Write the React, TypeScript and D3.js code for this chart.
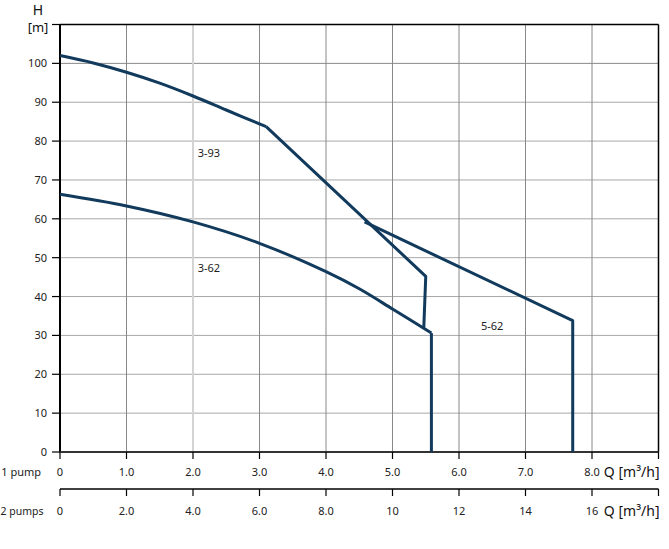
import * as d3 from 'd3';

// Q [m3/h] for 1 pump, H [m]
const curve393: [number, number][] = [
  [0, 102], [0.5, 100.1], [1.0, 97.7], [1.5, 94.9], [2.0, 91.6], [2.5, 88.0], [3.1, 83.7],
];
const line393: [number, number][] = [[3.1, 83.7], [5.5, 45.2], [5.47, 31.8]];

const curve362: [number, number][] = [
  [0, 66.3], [1.0, 63.3], [2.0, 59.2], [3.0, 53.7], [4.0, 46.4], [4.5, 42.0], [5.0, 36.8], [5.585, 30.6],
];
const line362: [number, number][] = [[5.585, 30.6], [5.585, 0]];

const line562: [number, number][] = [[4.58, 59.2], [7.71, 33.8], [7.71, 0]];

const curveLabels = [
  { text: '3-93', q: 2.07, h: 76 },
  { text: '3-62', q: 2.07, h: 46.3 },
  { text: '5-62', q: 6.33, h: 31.4 },
];

const hTicks = [0, 10, 20, 30, 40, 50, 60, 70, 80, 90, 100];
const q1Ticks = [0, 1, 2, 3, 4, 5, 6, 7, 8, 9];
const q1Labels = ['0', '1.0', '2.0', '3.0', '4.0', '5.0', '6.0', '7.0', '8.0'];
const q2Ticks = [0, 2, 4, 6, 8, 10, 12, 14, 16, 18];
const q2Labels = ['0', '2.0', '4.0', '6.0', '8.0', '10', '12', '14', '16'];

const W = 669;
const H = 549;
const LEFT = 60;
const RIGHT = 658.5;
const TOP = 24.5;
const BOTTOM = 452;
const AXIS2_Y = 489;
const FONT = '"Noto Sans", "DejaVu Sans", sans-serif';
const CURVE = '#113a5c';

export default function App() {
  const x = d3.scaleLinear().domain([0, 9]).range([LEFT, RIGHT]);
  const x2 = d3.scaleLinear().domain([0, 18]).range([LEFT, RIGHT]);
  const y = d3.scaleLinear().domain([0, 110]).range([BOTTOM, TOP]);

  const smooth = d3.line<[number, number]>()
    .x(d => x(d[0]))
    .y(d => y(d[1]))
    .curve(d3.curveCatmullRom.alpha(0.5));
  const straight = d3.line<[number, number]>()
    .x(d => x(d[0]))
    .y(d => y(d[1]));

  const paths = [
    smooth(curve393),
    straight(line393),
    smooth(curve362),
    straight(line362),
    straight(line562),
  ];

  return (
    <svg width={W} height={H} style={{ position: 'absolute', left: 0, top: 0, background: '#fff' }}
      fontFamily={FONT}>
      {/* grid */}
      {hTicks.filter(t => t > 0).map(t => (
        <line key={'h' + t} x1={LEFT} x2={RIGHT} y1={y(t)} y2={y(t)}
          stroke={t === 100 ? '#888' : '#a8a8a8'} strokeWidth={1} />
      ))}
      {q1Ticks.filter(t => t > 0 && t < 9).map(t => (
        <line key={'v' + t} x1={x(t)} x2={x(t)} y1={TOP} y2={BOTTOM}
          stroke={t === 2 ? '#d4d4d4' : '#888'} strokeWidth={t === 2 ? 2 : 1} />
      ))}

      {/* frame */}
      <line x1={LEFT} x2={RIGHT} y1={TOP} y2={TOP} stroke="#000" strokeWidth={1.5} />
      <line x1={RIGHT} x2={RIGHT} y1={TOP} y2={BOTTOM} stroke="#000" strokeWidth={1.5} />
      <line x1={LEFT} x2={LEFT} y1={TOP} y2={BOTTOM} stroke="#000" strokeWidth={2} />
      <line x1={LEFT} x2={RIGHT} y1={BOTTOM} y2={BOTTOM} stroke="#333" strokeWidth={2} />

      {/* y axis */}
      {hTicks.map(t => (
        <g key={'yt' + t}>
          <line x1={LEFT - 8} x2={LEFT} y1={y(t)} y2={y(t)} stroke="#000" strokeWidth={1.2} />
          <text x={LEFT - 13} y={y(t) + 4} textAnchor="end" fontSize={11} fill="#222">{t}</text>
        </g>
      ))}
      <line x1={LEFT - 8} x2={LEFT} y1={TOP} y2={TOP} stroke="#000" strokeWidth={1.2} />
      <text x={38} y={15} textAnchor="middle" fontSize={14} fill="#111">H</text>
      <text x={38} y={32} textAnchor="middle" fontSize={13} fill="#111">[m]</text>

      {/* 1 pump axis */}
      {q1Ticks.map(t => (
        <line key={'q1' + t} x1={x(t)} x2={x(t)} y1={BOTTOM} y2={BOTTOM + 7} stroke="#000" strokeWidth={1.2} />
      ))}
      {q1Labels.map((l, i) => (
        <text key={'q1l' + i} x={x(q1Ticks[i])} y={476} textAnchor="middle" fontSize={11} fill="#222">{l}</text>
      ))}
      <text x={41} y={476} textAnchor="end" fontSize={11} fill="#222">1 pump</text>
      <text x={RIGHT + 1} y={477} textAnchor="end" fontSize={14} fill="#111">Q [m³/h]</text>

      {/* 2 pumps axis */}
      <line x1={LEFT} x2={RIGHT} y1={AXIS2_Y} y2={AXIS2_Y} stroke="#000" strokeWidth={1.5} />
      {q2Ticks.map(t => (
        <line key={'q2' + t} x1={x2(t)} x2={x2(t)} y1={AXIS2_Y} y2={AXIS2_Y + 7} stroke="#000" strokeWidth={1.2} />
      ))}
      {q2Labels.map((l, i) => (
        <text key={'q2l' + i} x={x2(q2Ticks[i])} y={515} textAnchor="middle" fontSize={11} fill="#222">{l}</text>
      ))}
      <text x={0.5} y={515} textAnchor="start" fontSize={10.5} fill="#222">2 pumps</text>
      <text x={RIGHT + 1} y={516} textAnchor="end" fontSize={14} fill="#111">Q [m³/h]</text>

      {/* curves */}
      {paths.map((d, i) => (
        <path key={'c' + i} d={d ?? ''} fill="none" stroke={CURVE} strokeWidth={3}
          strokeLinejoin="round" strokeLinecap="butt" />
      ))}
      {curveLabels.map(c => (
        <text key={c.text} x={x(c.q)} y={y(c.h)} fontSize={11} fill="#222">{c.text}</text>
      ))}
    </svg>
  );
}
